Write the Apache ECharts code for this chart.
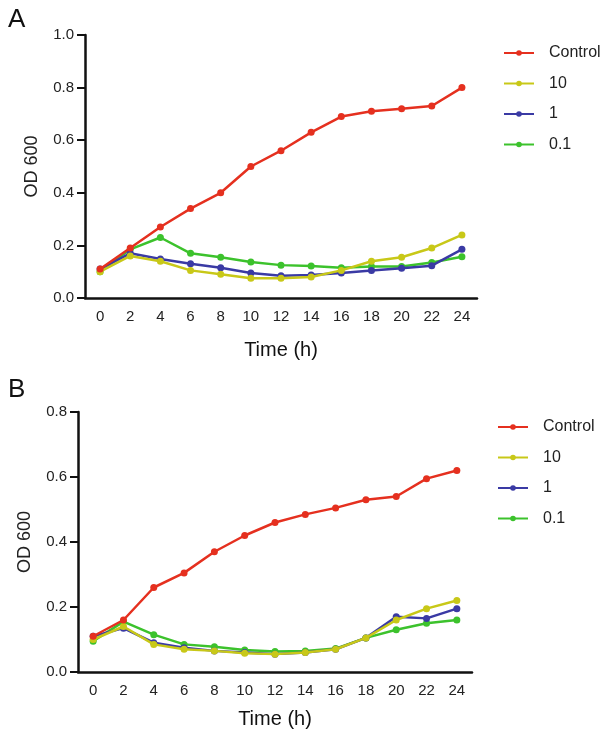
<!DOCTYPE html>
<html>
<head>
<meta charset="utf-8">
<script src="https://cdn.jsdelivr.net/npm/echarts@6/dist/echarts.min.js"></script>
<style>
html, body { margin: 0; padding: 0; background: #fff; }
#main { width: 606px; height: 751px; }
</style>
</head>
<body>
<div id="main"></div>
<script>
var chart = echarts.init(document.getElementById('main'));

var hours = ['0', '2', '4', '6', '8', '10', '12', '14', '16', '18', '20', '22', '24'];
var names = ['Control', '10', '1', '0.1'];
var colors = ['#e5301f', '#c8c818', '#3a3aa4', '#3cc22c'];

// panel A
var controlA = [0.11, 0.19, 0.27, 0.34, 0.40, 0.50, 0.56, 0.63, 0.69, 0.71, 0.72, 0.73, 0.80];
var tenA     = [0.10, 0.16, 0.14, 0.105, 0.09, 0.075, 0.075, 0.08, 0.105, 0.14, 0.155, 0.19, 0.24];
var oneA     = [0.11, 0.17, 0.148, 0.13, 0.115, 0.095, 0.085, 0.087, 0.095, 0.105, 0.113, 0.123, 0.185];
var pointOneA = [0.10, 0.185, 0.23, 0.17, 0.155, 0.137, 0.125, 0.122, 0.115, 0.12, 0.12, 0.135, 0.157];

// panel B
var controlB = [0.11, 0.16, 0.26, 0.305, 0.37, 0.42, 0.46, 0.485, 0.505, 0.53, 0.54, 0.595, 0.62];
var tenB     = [0.10, 0.14, 0.085, 0.07, 0.065, 0.058, 0.055, 0.06, 0.07, 0.105, 0.16, 0.195, 0.22];
var oneB     = [0.11, 0.135, 0.09, 0.075, 0.065, 0.06, 0.055, 0.06, 0.07, 0.105, 0.17, 0.165, 0.195];
var pointOneB = [0.095, 0.155, 0.115, 0.085, 0.078, 0.068, 0.063, 0.065, 0.072, 0.105, 0.13, 0.15, 0.16];

var dataA = [controlA, tenA, oneA, pointOneA];
var dataB = [controlB, tenB, oneB, pointOneB];

var font = 'Liberation Sans, Arial, sans-serif';

function xAxis(idx, gap) {
    return {
        type: 'category',
        gridIndex: idx,
        data: hours,
        boundaryGap: true,
        name: 'Time (h)',
        nameLocation: 'middle',
        nameGap: gap,
        nameTextStyle: { fontSize: 20, color: '#111', fontFamily: font },
        axisLine: { lineStyle: { color: '#111', width: 2.5 } },
        axisTick: { alignWithLabel: true, length: 7, lineStyle: { color: '#111', width: 2 } },
        axisLabel: { fontSize: 15, color: '#222', fontFamily: font, margin: 11 }
    };
}

function yAxis(idx, max, gap) {
    return {
        type: 'value',
        gridIndex: idx,
        min: 0,
        max: max,
        interval: 0.2,
        name: 'OD 600',
        nameLocation: 'middle',
        nameRotate: 90,
        nameGap: gap,
        nameTextStyle: { fontSize: 18, color: '#222', fontFamily: font },
        splitLine: { show: false },
        axisLine: { show: true, lineStyle: { color: '#111', width: 2.5 } },
        axisTick: { show: true, length: 8, lineStyle: { color: '#111', width: 2 } },
        axisLabel: {
            fontSize: 15, color: '#222', fontFamily: font, margin: 11,
            formatter: function (v) { return v.toFixed(1); }
        }
    };
}

var series = [];
[dataA, dataB].forEach(function (set, g) {
    set.forEach(function (vals, i) {
        series.push({
            name: names[i],
            type: 'line',
            xAxisIndex: g,
            yAxisIndex: g,
            data: vals,
            symbol: 'circle',
            symbolSize: 7,
            z: 10 - i,
            lineStyle: { width: 2.5, color: colors[i] },
            itemStyle: { color: colors[i] }
        });
    });
});

function legend(top, left) {
    return {
        orient: 'vertical',
        left: left,
        top: top,
        data: names,
        itemWidth: 30,
        itemHeight: 7,
        itemGap: 14.5,
        textStyle: { fontSize: 16, color: '#222', fontFamily: font, padding: [0, 0, 0, 10] }
    };
}

var option = {
    backgroundColor: '#fff',
    animation: false,
    color: colors,
    title: [
        { text: 'A', left: 3, top: 2, textStyle: { fontSize: 26, fontWeight: 'normal', color: '#111', fontFamily: font } },
        { text: 'B', left: 3, top: 372, textStyle: { fontSize: 26, fontWeight: 'normal', color: '#111', fontFamily: font } }
    ],
    legend: [legend(40, 498), legend(414, 492)],
    grid: [
        { left: 85, top: 35, width: 392, height: 263 },
        { left: 78, top: 412, width: 394, height: 260 }
    ],
    xAxis: [xAxis(0, 42), xAxis(1, 37)],
    yAxis: [yAxis(0, 1.0, 44), yAxis(1, 0.8, 44)],
    series: series
};

chart.setOption(option);
</script>
</body>
</html>
